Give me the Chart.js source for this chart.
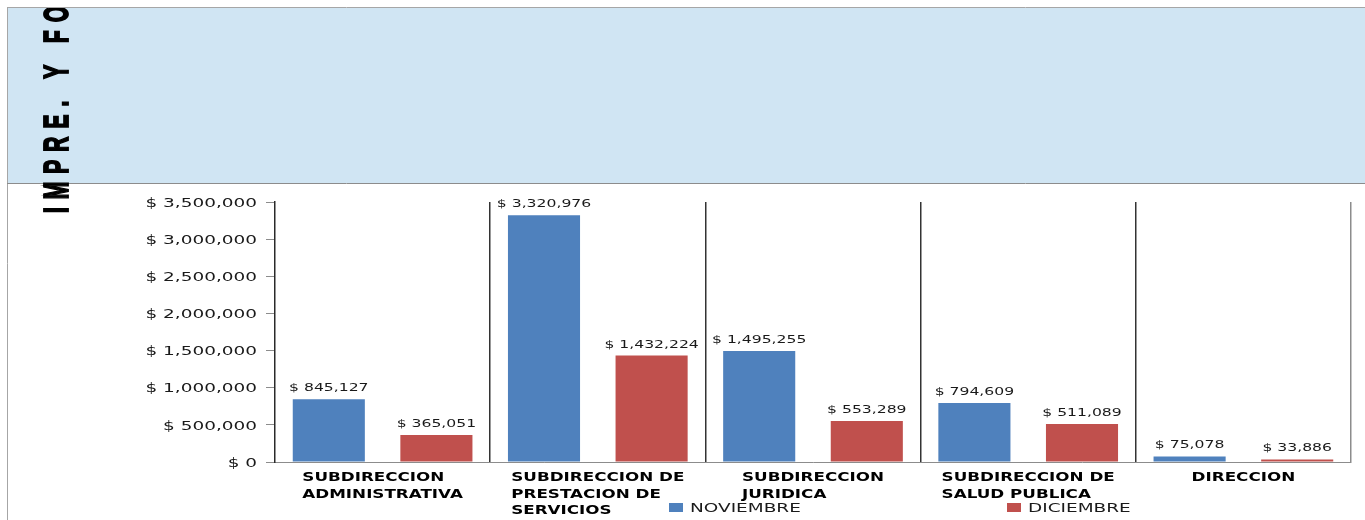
<!DOCTYPE html>
<html>
<head>
<meta charset="utf-8">
<script src="https://cdn.jsdelivr.net/npm/chart.js@4.4.0/dist/chart.umd.min.js"></script>
<style>
  html, body { margin: 0; padding: 0; background: #fff; }
  canvas { display: block; }
</style>
</head>
<body>
<canvas id="chart" width="1365" height="520"></canvas>
<script>
// Data
const categories = [
  ['SUBDIRECCION', 'ADMINISTRATIVA'],
  ['SUBDIRECCION DE', 'PRESTACION DE', 'SERVICIOS'],
  ['SUBDIRECCION', 'JURIDICA'],
  ['SUBDIRECCION DE', 'SALUD PUBLICA'],
  ['DIRECCION']
];
const noviembre = [845127, 3320976, 1495255, 794609, 75078];
const diciembre = [365051, 1432224, 553289, 511089, 33886];
const seriesNames = ['NOVIEMBRE', 'DICIEMBRE'];
const yMax = 3500000;
const yStep = 500000;
const sideTitle = 'IMPRE. Y FO';

const BLUE = '#4F81BD';
const RED = '#C0504D';
const SX = 1.42; // the reference text is stretched sideways

function money(v) {
    return '$ ' + v.toLocaleString('en-US');
}

// draw text stretched horizontally by SX
function stretchText(ctx, text, x, y, font, align, color) {
    ctx.save();
    ctx.font = font;
    ctx.fillStyle = color;
    ctx.textBaseline = 'alphabetic';
    ctx.textAlign = 'left';
    const w = ctx.measureText(text).width * SX;
    let left = x;
    if (align === 'center') left = x - w / 2;
    else if (align === 'right') left = x - w;
    ctx.translate(left, y);
    ctx.scale(SX, 1);
    ctx.fillText(text, 0, 0);
    ctx.restore();
    return w;
}

// Background band, frame and the vertical title
const framePlugin = {
    id: 'frame',
    beforeDraw(chart) {
        const ctx = chart.ctx;
        ctx.save();
        ctx.fillStyle = '#fff';
        ctx.fillRect(0, 0, chart.width, chart.height);
        ctx.fillStyle = '#D0E5F3';
        ctx.fillRect(7, 8, chart.width - 7, 175);
        ctx.strokeStyle = '#A6A6A6';
        ctx.lineWidth = 1;
        ctx.beginPath();
        ctx.moveTo(7, 7.5); ctx.lineTo(chart.width, 7.5);
        ctx.moveTo(7.5, 7); ctx.lineTo(7.5, chart.height);
        ctx.stroke();
        ctx.strokeStyle = '#8C8C8C';
        ctx.beginPath();
        ctx.moveTo(7, 183.5); ctx.lineTo(chart.width, 183.5);
        ctx.stroke();

        // rotated title, one letter at a time
        ctx.beginPath();
        ctx.rect(0, 8, 200, chart.height);
        ctx.clip();
        ctx.font = 'bold 21px "Liberation Sans"';
        ctx.fillStyle = '#000';
        ctx.strokeStyle = '#000';
        ctx.lineWidth = 1.1;
        ctx.textBaseline = 'alphabetic';
        let pos = 213;
        for (const ch of sideTitle) {
            const w = ctx.measureText(ch).width;
            ctx.save();
            ctx.translate(68, pos);
            ctx.rotate(-Math.PI / 2);
            ctx.scale(1, 1.7);
            ctx.fillText(ch, 0, 0);
            ctx.strokeText(ch, 0, 0);
            ctx.restore();
            pos -= w + 8;
        }
        ctx.restore();
    },
    afterDraw(chart) {
        const ctx = chart.ctx;
        const xs = chart.scales.x;
        const ys = chart.scales.y;
        const area = chart.chartArea;

        // y tick labels
        ys.ticks.forEach(t => {
            const py = ys.getPixelForValue(t.value);
            stretchText(ctx, money(t.value), area.left - 18, py + 4.7, '13px "DejaVu Sans"', 'right', '#1a1a1a');
        });

        // category labels: block centred, lines left aligned
        const catFont = 'bold 11.8px "DejaVu Sans"';
        ctx.save();
        ctx.font = catFont;
        categories.forEach((lines, i) => {
            const cx = xs.getPixelForValue(i);
            const bw = Math.max(...lines.map(l => ctx.measureText(l).width)) * SX;
            lines.forEach((l, j) => {
                stretchText(ctx, l, cx - bw / 2, area.bottom + 19 + j * 16.5, catFont, 'left', '#000');
            });
        });
        ctx.restore();

        // value labels above bars
        chart.data.datasets.forEach((ds, di) => {
            chart.getDatasetMeta(di).data.forEach((bar, i) => {
                stretchText(ctx, money(ds.data[i]), bar.x, bar.y - 8, '11px "DejaVu Sans"', 'center', '#1a1a1a');
            });
        });

        // legend
        const legendX = [669, 1007];
        chart.data.datasets.forEach((ds, di) => {
            ctx.fillStyle = ds.backgroundColor;
            ctx.fillRect(legendX[di], 503, 14, 9);
            stretchText(ctx, ds.label, legendX[di] + 21, 512, '13px "DejaVu Sans"', 'left', '#1a1a1a');
        });
    }
};

new Chart(document.getElementById('chart'), {
    type: 'bar',
    data: {
        labels: categories,
        datasets: [
            { label: seriesNames[0], data: noviembre, backgroundColor: BLUE, categoryPercentage: 1, barPercentage: 0.67 },
            { label: seriesNames[1], data: diciembre, backgroundColor: RED, categoryPercentage: 1, barPercentage: 0.67 }
        ]
    },
    options: {
        responsive: false,
        animation: false,
        layout: { padding: { left: 0, right: 14, top: 202, bottom: 0 } },
        plugins: { legend: { display: false }, tooltip: { enabled: false } },
        scales: {
            x: {
                offset: true,
                ticks: { display: false },
                grid: {
                    offset: true,
                    drawTicks: false,
                    lineWidth: 1.5,
                    color: c => c.index === undefined ? '#8C8C8C' : (c.index === 0 ? 'rgba(0,0,0,0)' : '#333')
                },
                border: { color: '#8C8C8C', width: 1 },
                afterFit: s => { s.height = 58; }
            },
            y: {
                min: 0,
                max: yMax,
                ticks: { stepSize: yStep, display: false },
                grid: { drawOnChartArea: false, drawTicks: true, tickLength: 9, tickColor: '#8C8C8C' },
                border: { color: '#2a2a2a', width: 1.5 },
                afterFit: s => { s.width = 275; }
            }
        }
    },
    plugins: [framePlugin]
});
</script>
</body>
</html>
